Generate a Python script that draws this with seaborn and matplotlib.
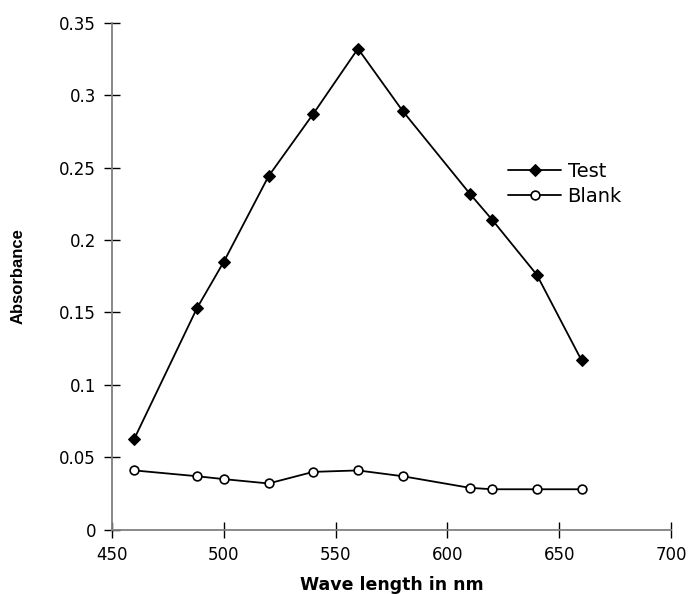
import matplotlib
matplotlib.use('Agg')
import matplotlib.pyplot as plt
from matplotlib.ticker import MultipleLocator
import seaborn as sns
import pandas as pd

# data
wavelength = [460, 488, 500, 520, 540, 560, 580, 610, 620, 640, 660]
test_abs = [0.063, 0.153, 0.185, 0.244, 0.287, 0.332, 0.289, 0.232, 0.214, 0.176, 0.117]
blank_abs = [0.041, 0.037, 0.035, 0.032, 0.040, 0.041, 0.037, 0.029, 0.028, 0.028, 0.028]

sns.set_style('white', {'text.color': 'black', 'xtick.color': 'black',
                        'ytick.color': 'black', 'axes.labelcolor': 'black'})
plt.rcParams['font.family'] = ['DejaVu Sans']

df_test = pd.DataFrame({'nm': wavelength, 'abs': test_abs})
df_blank = pd.DataFrame({'nm': wavelength, 'abs': blank_abs})

fig = plt.figure(figsize=(6.96, 5.94), dpi=100)
ax = fig.add_axes([0.161, 0.108, 0.803, 0.854])

sns.lineplot(data=df_test, x='nm', y='abs', ax=ax, color='black', lw=1.3,
             marker='D', markersize=6.3, markerfacecolor='black',
             markeredgecolor='black', label='Test')
sns.lineplot(data=df_blank, x='nm', y='abs', ax=ax, color='black', lw=1.3,
             marker='o', markersize=6.3, markerfacecolor='white',
             markeredgecolor='black', markeredgewidth=1.2, label='Blank')

ax.set_xlim(450, 700)
ax.set_ylim(0, 0.35)
ax.xaxis.set_major_locator(MultipleLocator(50))
ax.yaxis.set_major_locator(MultipleLocator(0.05))
ax.yaxis.set_major_formatter(plt.FuncFormatter(lambda v, p: f'{v:g}'))

for s in ['top', 'right']:
    ax.spines[s].set_visible(False)
for s in ['left', 'bottom']:
    ax.spines[s].set_color('#808080')
    ax.spines[s].set_linewidth(1.3)
    ax.spines[s].set_clip_on(False)

ax.tick_params(axis='both', direction='inout', length=11, width=1,
               color='black', labelsize=12, pad=6, bottom=True, left=True)

ax.set_xlabel('Wave length in nm', fontsize=12.5, fontweight='bold', labelpad=9)
ax.set_ylabel('Absorbance', fontsize=12, fontweight='bold',
              family='Liberation Sans', labelpad=24)

leg = ax.legend(loc='upper left', bbox_to_anchor=(0.695, 0.74), frameon=False,
                fontsize=14, handlelength=2.7, handletextpad=0.35,
                labelspacing=0.3, borderaxespad=0)

plt.savefig('out.png', dpi=100)
